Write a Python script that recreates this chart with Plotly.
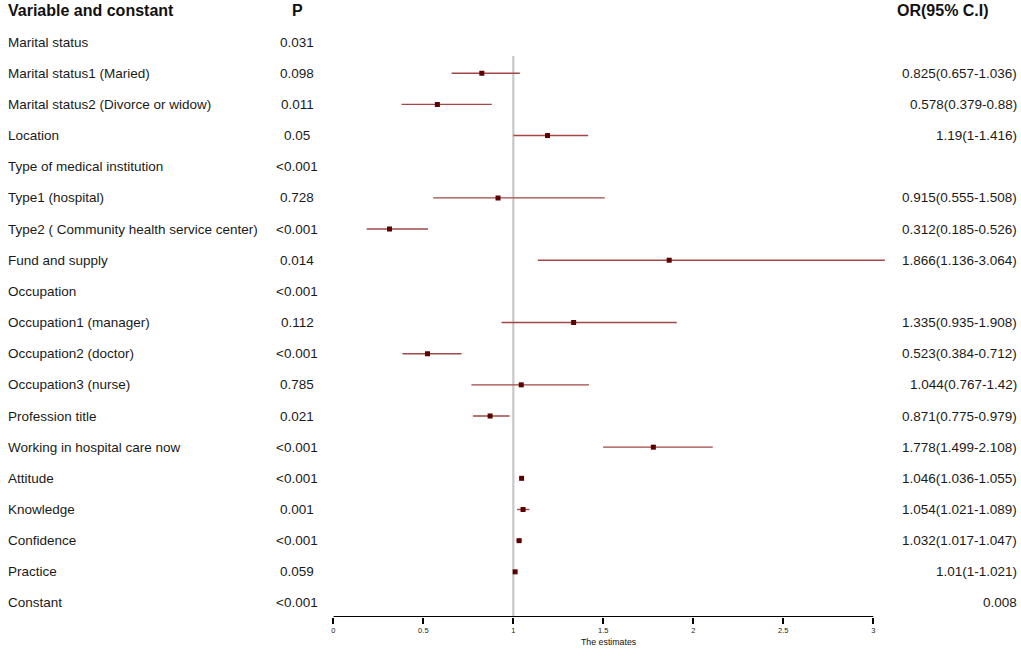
import plotly.graph_objects as go

# rows of the forest plot (top to bottom)
variables = ["Marital status", "Marital status1 (Maried)", "Marital status2 (Divorce or widow)",
             "Location", "Type of medical institution", "Type1 (hospital)",
             "Type2 ( Community health service center)", "Fund and supply", "Occupation",
             "Occupation1 (manager)", "Occupation2 (doctor)", "Occupation3 (nurse)",
             "Profession title", "Working in hospital care now", "Attitude", "Knowledge",
             "Confidence", "Practice", "Constant"]
p_values = ["0.031", "0.098", "0.011", "0.05", "<0.001", "0.728", "<0.001", "0.014", "<0.001",
            "0.112", "<0.001", "0.785", "0.021", "<0.001", "<0.001", "0.001", "<0.001", "0.059",
            "<0.001"]
odds = [None, 0.825, 0.578, 1.19, None, 0.915, 0.312, 1.866, None, 1.335, 0.523, 1.044,
        0.871, 1.778, 1.046, 1.054, 1.032, 1.01, None]
lower = [None, 0.657, 0.379, 1.0, None, 0.555, 0.185, 1.136, None, 0.935, 0.384, 0.767,
         0.775, 1.499, 1.036, 1.021, 1.017, 1.0, None]
upper = [None, 1.036, 0.88, 1.416, None, 1.508, 0.526, 3.064, None, 1.908, 0.712, 1.42,
         0.979, 2.108, 1.055, 1.089, 1.047, 1.021, None]
or_text = ["", "0.825(0.657-1.036)", "0.578(0.379-0.88)", "1.19(1-1.416)", "",
           "0.915(0.555-1.508)", "0.312(0.185-0.526)", "1.866(1.136-3.064)", "",
           "1.335(0.935-1.908)", "0.523(0.384-0.712)", "1.044(0.767-1.42)",
           "0.871(0.775-0.979)", "1.778(1.499-2.108)", "1.046(1.036-1.055)",
           "1.054(1.021-1.089)", "1.032(1.017-1.047)", "1.01(1-1.021)", "0.008"]
x_ticks = [0, 0.5, 1, 1.5, 2, 2.5, 3]

rows = list(range(len(variables)))
FONT = "Liberation Sans, Arial, sans-serif"

fig = go.Figure()

# confidence interval lines
ci_x, ci_y = [], []
for r, lo, hi in zip(rows, lower, upper):
    if lo is None:
        continue
    ci_x += [lo, hi, None]
    ci_y += [r, r, None]
fig.add_trace(go.Scatter(x=ci_x, y=ci_y, mode="lines",
                         line=dict(color="#a24646", width=1.4), hoverinfo="skip"))

fig.add_trace(go.Scatter(x=odds, y=rows, mode="markers",
                         marker=dict(symbol="square", size=5, color="#5a0000"),
                         hoverinfo="skip"))

# reference line at OR = 1
fig.add_shape(type="line", x0=1, x1=1, y0=0.45, y1=18.45, xref="x", yref="y",
              line=dict(color="#c8c8c8", width=2.2), layer="below")
# axis line only over the tick range
fig.add_shape(type="line", x0=0, x1=3, y0=18.45, y1=18.45, xref="x", yref="y",
              line=dict(color="black", width=2))
fig.add_annotation(x=1.53, y=-25 / 617, xref="x", yref="paper", yanchor="middle",
                   text="The estimates", showarrow=False,
                   font=dict(size=8.8, family=FONT, color="#111111"))

# table columns
for r, v, p, t in zip(rows, variables, p_values, or_text):
    fig.add_annotation(x=4 / 1021, y=r, xref="paper", yref="y", text=v, showarrow=False,
                       xanchor="left", font=dict(size=13.5, color="#1a1a1a", family=FONT))
    fig.add_annotation(x=296 / 1021, y=r, xref="paper", yref="y", text=p, showarrow=False,
                       xanchor="center", font=dict(size=13.5, color="#1a1a1a", family=FONT))
    if t:
        fig.add_annotation(x=1019 / 1021, y=r, xref="paper", yref="y", text=t, showarrow=False,
                           xanchor="right", font=dict(size=13.5, color="#1a1a1a", family=FONT))

headers = [("Variable and constant", 4, "left"), ("P", 296, "center"), ("OR(95% C.I)", 943, "center")]
for txt, px_, anc in headers:
    fig.add_annotation(x=px_ / 1021, y=-1, xref="paper", yref="y", text="<b>%s</b>" % txt,
                       showarrow=False, xanchor=anc,
                       font=dict(size=16, color="#111111", family=FONT))

fig.update_layout(
    width=1021, height=658,
    margin=dict(l=0, r=0, t=0, b=41),
    plot_bgcolor="white", paper_bgcolor="white",
    showlegend=False,
    xaxis=dict(range=[0, 3.1], domain=[332 / 1021, (332 + 3.1 * 180.33) / 1021],
               tickvals=x_ticks, ticktext=[str(t) for t in x_ticks],
               showgrid=False, zeroline=False, showline=False,
               ticks="outside", ticklen=6, tickwidth=1.5, tickcolor="black",
               tickfont=dict(size=7.5, family=FONT, color="#222222")),
    yaxis=dict(range=[18.45, -1.35], visible=False, showgrid=False, zeroline=False),
)

fig.write_html("out.html", config={"displayModeBar": False},
               post_script="document.body.style.margin='0';")
